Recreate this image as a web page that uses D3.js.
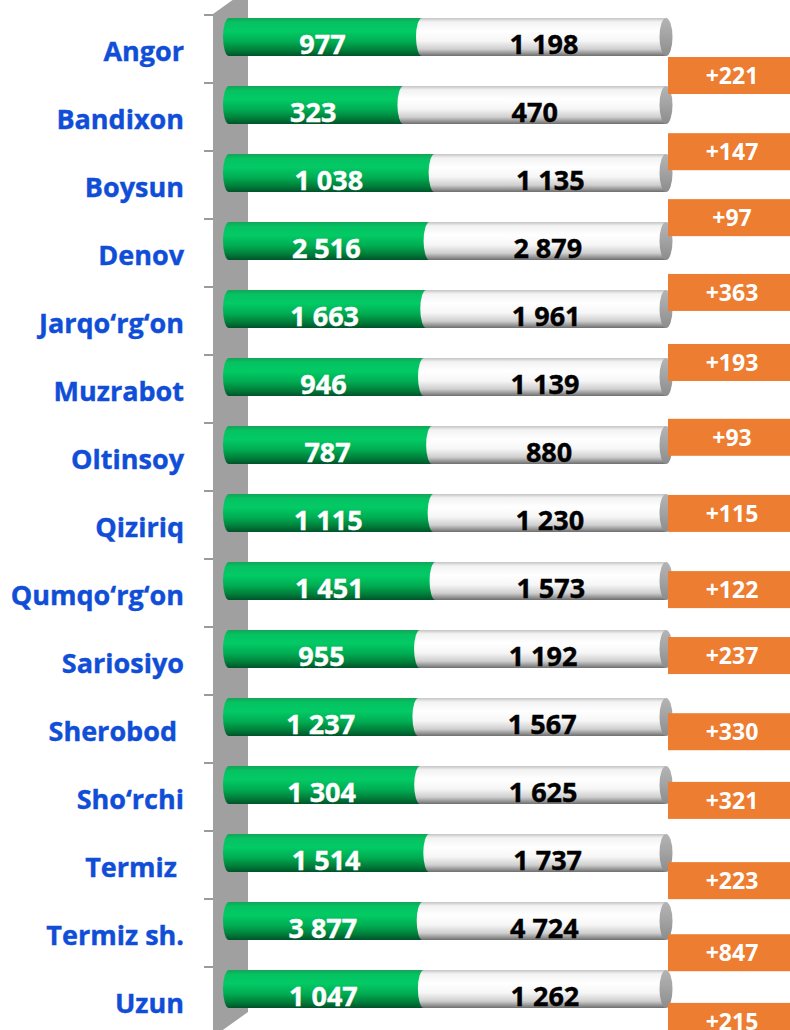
<!DOCTYPE html>
<html>
<head>
<meta charset="utf-8">
<script src="https://cdn.jsdelivr.net/npm/d3@7"></script>
<style>
  html, body { margin: 0; padding: 0; background: #fff; }
  svg { display: block; font-family: "Open Sans", "DejaVu Sans", sans-serif; font-weight: bold; }
</style>
</head>
<body>
<div id="chart"></div>
<script>
const categories = ['Angor', 'Bandixon', 'Boysun', 'Denov', 'Jarqo‘rg‘on', 'Muzrabot', 'Oltinsoy', 'Qiziriq',
    'Qumqo‘rg‘on', 'Sariosiyo', 'Sherobod ', 'Sho‘rchi', 'Termiz ', 'Termiz sh.', 'Uzun'];
const before = [977, 323, 1038, 2516, 1663, 946, 787, 1115, 1451, 955, 1237, 1304, 1514, 3877, 1047];
const after = [1198, 470, 1135, 2879, 1961, 1139, 880, 1230, 1573, 1192, 1567, 1625, 1737, 4724, 1262];
const growth = [221, 147, 97, 363, 193, 93, 115, 122, 237, 330, 321, 223, 847, 215];
// where each orange label sits, in rows counted from the top of the axis
const growthRow = [0.89, 2.01, 2.98, 4.08, 5.11, 6.21, 7.33, 8.45, 9.42, 10.54, 11.55, 12.73, 13.79, 14.8];

const width = 790, height = 1030;
const fmt = v => d3.format(',')(v).replace(/,/g, ' ');

const svg = d3.select('#chart').append('svg')
    .attr('width', width)
    .attr('height', height);

const defs = svg.append('defs');
function vGrad(id, stops) {
    const g = defs.append('linearGradient').attr('id', id)
        .attr('x1', 0).attr('y1', 0).attr('x2', 0).attr('y2', 1);
    stops.forEach(s => g.append('stop').attr('offset', s[0]).attr('stop-color', s[1]));
}
vGrad('green', [[0, '#14a456'], [0.12, '#05c262'], [0.35, '#02ca65'], [0.62, '#00ad52'], [0.86, '#007a38'], [1, '#00532a']]);
vGrad('white', [[0, '#c4c4c4'], [0.1, '#f2f2f2'], [0.35, '#ffffff'], [0.6, '#f6f6f6'], [0.82, '#cfcfcf'], [0.94, '#8e8e8e'], [1, '#6e6e6e']]);
vGrad('cap', [[0, '#b4b4b4'], [0.5, '#a2a2a2'], [1, '#8c8c8c']]);

const y = d3.scaleBand().domain(categories).range([15, 1035]).padding(0);
const rowY = d3.scaleLinear().domain([0, categories.length]).range([15, 1035]);
const x = d3.scaleLinear().domain([0, 1]).range([223, 666]);

const barH = 38, rx = 6;

// side wall of the 3D chart
svg.append('path')
    .attr('d', 'M213,14 L248,-11 L248,1012 L213,1037 Z')
    .attr('fill', '#a0a0a0');

// ticks
svg.selectAll('.tick')
    .data(d3.range(categories.length + 1))
    .enter()
    .append('line')
    .attr('x1', 204).attr('x2', 213)
    .attr('y1', d => rowY(d)).attr('y2', d => rowY(d))
    .attr('stroke', '#9a9a9a')
    .attr('stroke-width', 2);

// category labels
svg.selectAll('.cat')
    .data(categories)
    .enter()
    .append('text')
    .attr('x', 184)
    .attr('y', d => y(d) + 46)
    .attr('text-anchor', 'end')
    .attr('fill', '#104ed8')
    .attr('font-size', 27)
    .attr('stroke', '#104ed8')
    .attr('stroke-width', 0.4)
    .style('white-space', 'pre')
    .text(d => d);

const rows = categories.map((c, i) => ({
    cat: c, a: before[i], b: after[i],
    split: before[i] / (before[i] + after[i])
}));

const bar = svg.selectAll('.bar')
    .data(rows)
    .enter()
    .append('g')
    .attr('transform', d => `translate(0,${y(d.cat) + 3})`);

bar.append('rect')
    .attr('x', x(0))
    .attr('y', 0)
    .attr('width', d => x(d.split) - x(0) + rx)
    .attr('height', barH)
    .attr('rx', rx).attr('ry', barH / 2)
    .attr('fill', 'url(#green)');

bar.append('path')
    .attr('d', d => {
        const xs = x(d.split), xe = x(1);
        return `M${xs},0 L${xe},0 L${xe},${barH} L${xs},${barH} A${rx},${barH / 2} 0 0 1 ${xs},0 Z`;
    })
    .attr('fill', 'url(#white)');

bar.append('ellipse')
    .attr('cx', x(1))
    .attr('cy', barH / 2)
    .attr('rx', 6.5)
    .attr('ry', barH / 2)
    .attr('fill', 'url(#cap)');

bar.append('text')
    .attr('x', d => (x(0) + x(d.split)) / 2)
    .attr('y', 35.5)
    .attr('text-anchor', 'middle')
    .attr('fill', '#fff')
    .attr('stroke', '#fff')
    .attr('stroke-width', 0.4)
    .attr('font-size', 27)
    .text(d => fmt(d.a));

bar.append('text')
    .attr('x', d => (x(d.split) + x(1)) / 2)
    .attr('y', 35.5)
    .attr('text-anchor', 'middle')
    .attr('fill', '#000')
    .attr('stroke', '#000')
    .attr('stroke-width', 0.4)
    .attr('font-size', 27)
    .text(d => fmt(d.b));

// orange growth labels
const box = svg.selectAll('.box')
    .data(growth)
    .enter()
    .append('g')
    .attr('transform', (d, i) => `translate(668,${rowY(growthRow[i]) - 18.5})`);

box.append('rect')
    .attr('width', 130)
    .attr('height', 37)
    .attr('fill', '#ed7d31');

box.append('text')
    .attr('x', 64)
    .attr('y', 27)
    .attr('text-anchor', 'middle')
    .attr('fill', '#fff')
    .attr('font-size', 23)
    .text(d => '+' + d);
</script>
</body>
</html>
